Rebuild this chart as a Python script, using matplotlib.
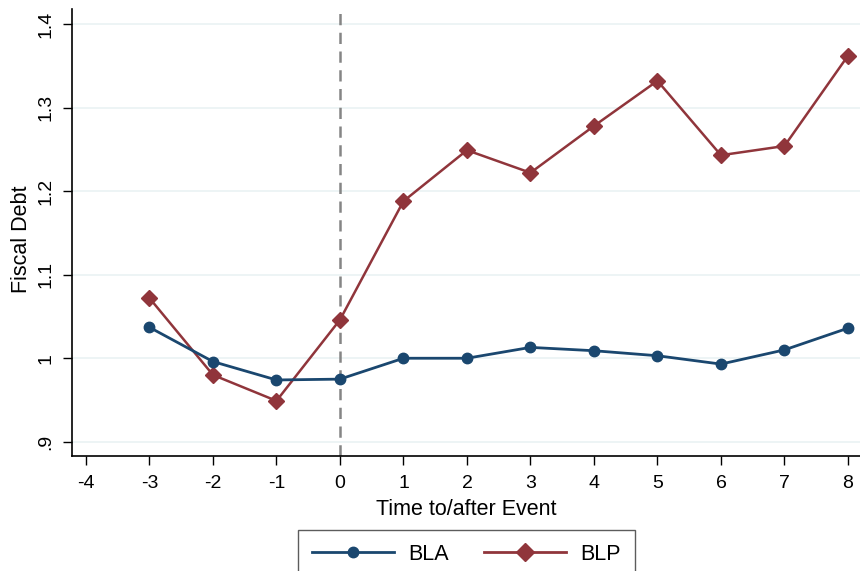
import matplotlib
matplotlib.use("Agg")
import matplotlib.pyplot as plt
from matplotlib.lines import Line2D

time = [-3, -2, -1, 0, 1, 2, 3, 4, 5, 6, 7, 8]
bla = [1.037, 0.996, 0.974, 0.975, 1.000, 1.000, 1.013, 1.009, 1.003, 0.993, 1.010, 1.036]
blp = [1.072, 0.980, 0.949, 1.046, 1.188, 1.249, 1.222, 1.278, 1.332, 1.243, 1.254, 1.362]
xticks = [-4, -3, -2, -1, 0, 1, 2, 3, 4, 5, 6, 7, 8]
yticks = [0.9, 1.0, 1.1, 1.2, 1.3, 1.4]
ytick_labels = [".9", "1", "1.1", "1.2", "1.3", "1.4"]

plt.rcParams['font.family'] = ['Liberation Sans', 'DejaVu Sans']

navy = "#1a476f"
maroon = "#90353b"

fig = plt.figure(figsize=(8.6, 5.71), dpi=100)
ax = fig.add_axes([72/860, (571-456)/571, (860-72)/860, (456-9)/571])

for y in yticks:
    ax.axhline(y, color="#eaf2f3", lw=1.2, zorder=0)
ax.axvline(0, color="#858585", lw=1.8, ls=(0, (4.5, 3)), zorder=1)

ax.plot(time, bla, color=navy, lw=2, marker="o", ms=7.5, zorder=3, label="BLA")
ax.plot(time, blp, color=maroon, lw=1.8, marker="D", ms=8.5, zorder=2, label="BLP")

ax.set_xlim(-4.22, 8.19)
ax.set_ylim(0.883, 1.418)
ax.set_xticks(xticks)
ax.set_xticklabels([str(t) for t in xticks])
ax.set_yticks(yticks)
ax.set_yticklabels(ytick_labels, rotation=90, va="center")
ax.tick_params(axis="both", direction="out", length=6.5, width=1, labelsize=14, colors="black")
ax.tick_params(axis="x", pad=7)
ax.tick_params(axis="y", pad=6)
for s in ["top", "right"]:
    ax.spines[s].set_visible(False)
for s in ["left", "bottom"]:
    ax.spines[s].set_linewidth(1.2)

ax.set_xlabel("Time to/after Event", fontsize=15.5, labelpad=5)
ax.set_ylabel("Fiscal Debt", fontsize=15.5)
ax.yaxis.set_label_coords(-0.051, 0.485)

handles = [Line2D([], [], color=navy, lw=2, marker="o", ms=7.5),
           Line2D([], [], color=maroon, lw=2, marker="D", ms=9.5)]
leg = fig.legend(handles, ["BLA", "BLP"], loc="upper center", bbox_to_anchor=(466.5/860, (571-530)/571),
                 ncol=2, frameon=True, fancybox=False, edgecolor="#333333", fontsize=15.5,
                 handlelength=3.8, columnspacing=1.6, borderpad=0.65, handletextpad=0.7,
                 borderaxespad=0)
leg.get_frame().set_linewidth(1.0)

fig.savefig("out.png", dpi=100)
